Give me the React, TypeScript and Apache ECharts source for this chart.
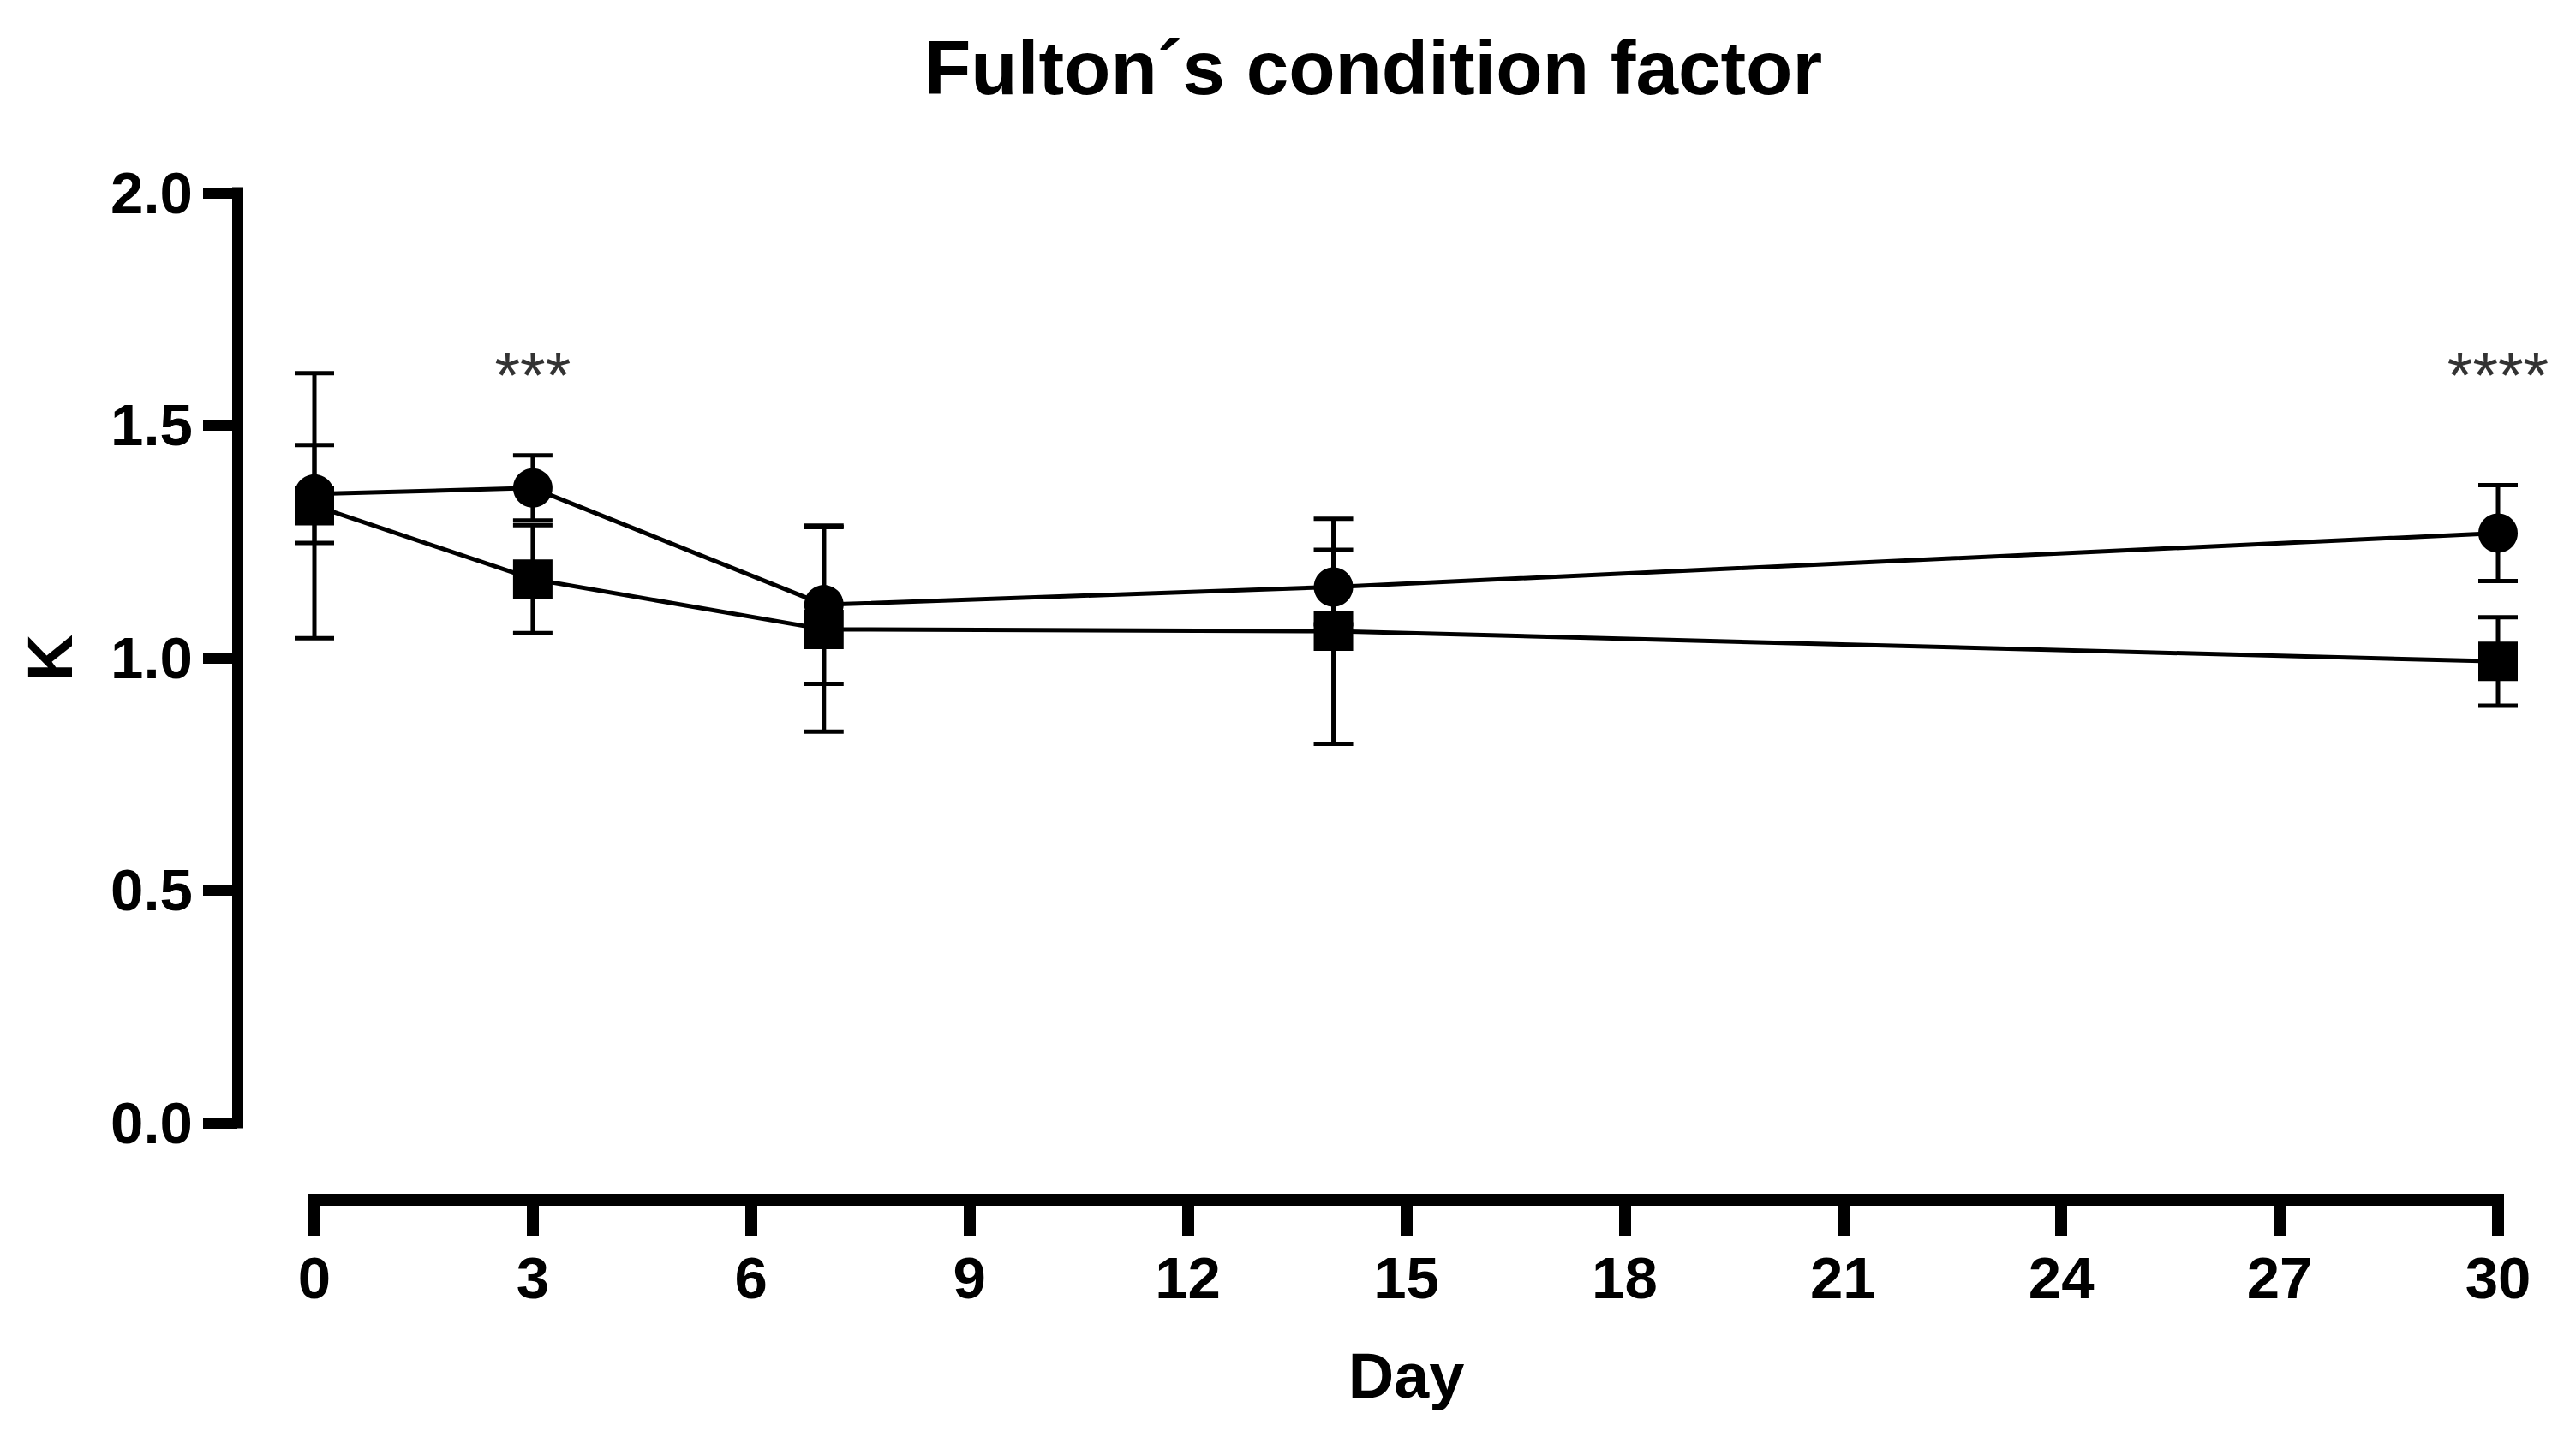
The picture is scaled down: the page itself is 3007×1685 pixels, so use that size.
import React, { useEffect, useRef } from "react";
import * as echarts from "echarts";

const days = [0, 3, 7, 14, 30];
const circleMean = [1.352, 1.365, 1.114, 1.152, 1.268];
const circleErr = [0.105, 0.07, 0.17, 0.08, 0.103];
const squareMean = [1.327, 1.169, 1.061, 1.057, 0.992];
const squareErr = [0.285, 0.116, 0.22, 0.242, 0.095];
const sigDays = [3, 30];
const sigLevel = [1.64, 1.64];
const sigText = ["***", "****"];
const yTicks = [0, 0.5, 1.0, 1.5, 2.0];
const xTickStep = 3;

const FONT = "'Liberation Sans', Arial, sans-serif";

export default function App() {
  const ref = useRef<HTMLDivElement>(null);
  useEffect(() => {
    if (!ref.current) return;
    const chart = echarts.init(ref.current, undefined, { renderer: "svg" });

    const errData = (means: number[], errs: number[]) =>
      days.map((d, i) => [d, means[i] - errs[i], means[i] + errs[i]]);

    const renderErr = (params: any, api: any) => {
      const x = api.value(0);
      const lo = api.coord([x, api.value(1)]);
      const hi = api.coord([x, api.value(2)]);
      const hw = 23;
      const st = { stroke: "#000", lineWidth: 5 };
      return {
        type: "group",
        children: [
          { type: "line", shape: { x1: hi[0], y1: hi[1], x2: lo[0], y2: lo[1] }, style: st },
          { type: "line", shape: { x1: hi[0] - hw, y1: hi[1], x2: hi[0] + hw, y2: hi[1] }, style: st },
          { type: "line", shape: { x1: lo[0] - hw, y1: lo[1], x2: lo[0] + hw, y2: lo[1] }, style: st },
        ],
      };
    };

    chart.setOption({
      animation: false,
      backgroundColor: "#fff",
      title: {
        text: "Fulton´s condition factor",
        left: 1603,
        textAlign: "center",
        top: 34,
        padding: 0,
        textStyle: { fontFamily: FONT, fontWeight: "bold", fontSize: 89, color: "#000" },
      },
      grid: { left: 367, right: 91, top: 225, bottom: 374, containLabel: false },
      xAxis: {
        type: "value",
        min: 0,
        max: 30,
        interval: xTickStep,
        offset: 90,
        name: "Day",
        nameLocation: "middle",
        nameGap: 205,
        nameTextStyle: { fontFamily: FONT, fontWeight: "bold", fontSize: 74, color: "#000", verticalAlign: "middle" },
        axisLine: { onZero: false, lineStyle: { color: "#000", width: 14, cap: "square" } },
        axisTick: { length: 42, lineStyle: { color: "#000", width: 14 } },
        axisLabel: {
          margin: 91,
          verticalAlign: "middle",
          fontFamily: FONT,
          fontWeight: "bold",
          fontSize: 69,
          color: "#000",
        },
        splitLine: { show: false },
      },
      yAxis: {
        type: "value",
        min: yTicks[0],
        max: yTicks[yTicks.length - 1],
        interval: 0.5,
        offset: 90,
        name: "K",
        nameLocation: "middle",
        nameGap: 219,
        nameTextStyle: { fontFamily: FONT, fontWeight: "bold", fontSize: 75, color: "#000", verticalAlign: "middle", align: "center" },
        axisLine: { onZero: false, lineStyle: { color: "#000", width: 13, cap: "square" } },
        axisTick: { length: 40, lineStyle: { color: "#000", width: 13 } },
        axisLabel: {
          margin: 52,
          fontFamily: FONT,
          fontWeight: "bold",
          fontSize: 69,
          color: "#000",
          formatter: (v: number) => v.toFixed(1),
        },
        splitLine: { show: false },
      },
      series: [
        {
          type: "custom",
          name: "circleErr",
          renderItem: renderErr,
          data: errData(circleMean, circleErr),
          z: 2,
        },
        {
          type: "custom",
          name: "squareErr",
          renderItem: renderErr,
          data: errData(squareMean, squareErr),
          z: 2,
        },
        {
          type: "line",
          name: "Circle",
          data: days.map((d, i) => [d, circleMean[i]]),
          symbol: "circle",
          symbolSize: 46,
          lineStyle: { color: "#000", width: 5 },
          itemStyle: { color: "#000" },
          z: 3,
        },
        {
          type: "line",
          name: "Square",
          data: days.map((d, i) => [d, squareMean[i]]),
          symbol: "rect",
          symbolSize: 46,
          lineStyle: { color: "#000", width: 5 },
          itemStyle: { color: "#000" },
          z: 4,
        },
        {
          type: "scatter",
          name: "significance",
          data: sigDays.map((d, i) => ({ value: [d, sigLevel[i]], label: { formatter: sigText[i] } })),
          symbolSize: 1,
          itemStyle: { color: "rgba(0,0,0,0)" },
          label: {
            show: true,
            position: "inside",
            offset: [0, 17],
            fontFamily: FONT,
            fontSize: 76,
            color: "#000",
          },
          z: 5,
        },
      ],
    });
    return () => chart.dispose();
  }, []);
  return (
    <div
      ref={ref}
      style={{ position: "fixed", left: 0, top: 0, width: 3007, height: 1685, background: "#fff" }}
    />
  );
}
